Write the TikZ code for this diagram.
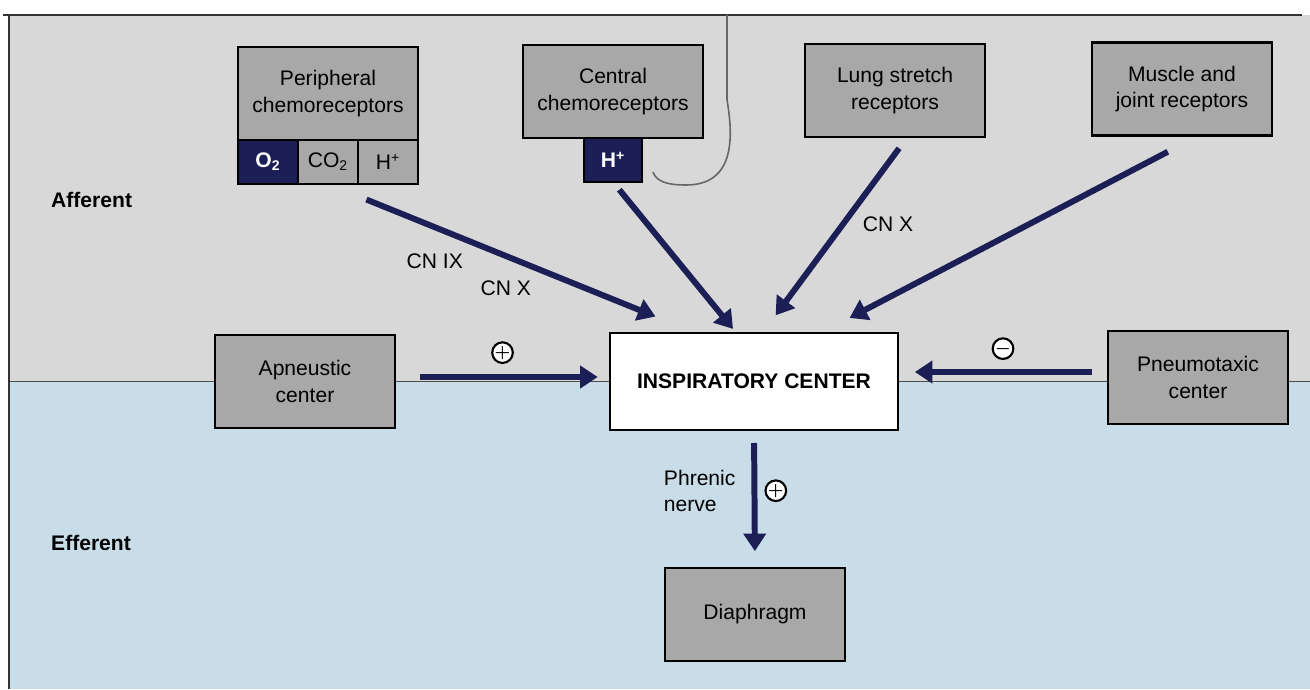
\documentclass[tikz,border=0pt]{standalone}
\usepackage{fontspec}
\setmainfont{Liberation Sans}
\usetikzlibrary{positioning,arrows.meta}

\definecolor{navy}{HTML}{1B1F55}
\definecolor{boxgrey}{HTML}{A8A8A8}
\definecolor{upgrey}{HTML}{D8D8D8}
\definecolor{lowblue}{HTML}{C9DDE8}

\tikzset{
  box/.style={draw=black,line width=1.6pt,fill=boxgrey,outer sep=0pt,
    minimum width=3.6cm,minimum height=1.86cm,align=center,inner sep=2pt,
    font=\fontsize{12}{15}\selectfont},
  cell/.style={draw=black,line width=1.6pt,fill=boxgrey,outer sep=0pt,
    minimum width=1.2cm,minimum height=0.88cm,inner sep=0pt,
    font=\fontsize{12}{15}\selectfont},
  darkcell/.style={cell,fill=navy,text=white,
    font=\fontsize{12}{15}\selectfont\bfseries},
  sig/.style={draw=navy,line width=3.4pt,
    -{Triangle[length=10pt,width=12.5pt]}},
  sign/.style={circle,draw=black,fill=white,line width=1.2pt,inner sep=0pt,
    minimum size=0.4cm,font=\boldmath},
  lbl/.style={font=\fontsize{12}{15}\selectfont,inner sep=2pt},
  side/.style={font=\fontsize{12}{15}\selectfont\bfseries,anchor=west}
}

\begin{document}
\begin{tikzpicture}[x=0.02cm,y=-0.02cm]
\useasboundingbox (0,0) rectangle (1310,689);

% Background: grey upper band, blue lower band.
\fill[white] (0,0) rectangle (1310,689);
\fill[upgrey] (8,15) rectangle (1310,381);
\fill[lowblue] (8,381) rectangle (1310,689);
\draw[black!70,line width=0.5pt] (8,381) -- (1310,381);
\draw[black!80,line width=1.2pt] (3,15) -- (1302,15);
\draw[black!80,line width=0.8pt] (9,15) -- (9,689);

% Outline hooking round the central chemoreceptors.
\draw[black!60,line width=0.9pt] (727,15) -- (727,100)
  .. controls (733,135) and (736,185) .. (686,185)
  .. controls (666,185) and (656,181) .. (653,172);

\node[side] (aff) at (45,200) {Afferent};
\node[side] (eff) at (45,543) {Efferent};

% Receptor boxes along the top.
\node[box] (periph) at (328,93.5) {Peripheral\\chemoreceptors};
\node[darkcell,anchor=north west] (o2) at (periph.south west)
  {O\textsubscript{2}};
\node[cell,right=0pt of o2] (co2) {CO\textsubscript{2}};
\node[cell,right=0pt of co2] (hplus) {H\textsuperscript{+}};

\node[box] (central) at (613,91.5) {Central\\chemoreceptors};
\node[darkcell,minimum width=1.16cm,below=0pt of central] (hcen)
  {H\textsuperscript{+}};

\node[box] (lung) at (895,90.5) {Lung stretch\\receptors};
\node[box] (muscle) at (1182,89) {Muscle and\\joint receptors};

% Middle row and the effector.
\node[box] (apn) at (305,381.5) {Apneustic\\center};
\node[box,fill=white,minimum width=5.76cm,minimum height=1.94cm,
  font=\fontsize{12}{15}\selectfont\bfseries] (insp) at (754,381.5)
  {INSPIRATORY CENTER};
\node[box] (pneumo) at (1198,377.5) {Pneumotaxic\\center};
\node[box] (dia) at (755,614.5) {Diaphragm};

% Afferent arrows.
\draw[sig,shorten <=23.6pt,shorten >=25pt] (co2.south) -- (insp.140)
  node[lbl,pos=0.29,below=0.4cm] {CN IX}
  node[lbl,pos=0.483,below=0.36cm] {CN X};
\draw[sig,shorten <=5.7pt,shorten >=3pt] (hcen.south) -- (insp.110);
\draw[sig,shorten <=8pt,shorten >=12.5pt] (lung.-75) -- (insp.80)
  node[lbl,pos=0.446,right=0.27cm] {CN X};
\draw[sig,shorten <=20pt,shorten >=18.5pt] (muscle.-70) -- (insp.36);

% Side inputs.
\draw[sig,shorten <=14pt,shorten >=7pt]
  ([yshift=0.09cm]apn.east) -- ([yshift=0.09cm]apn.east -| insp.west)
  node[sign,midway,above=0.26cm] {$+$};
\draw[sig,shorten <=9pt,shorten >=9.6pt]
  ([yshift=0.11cm]pneumo.west) -- ([yshift=0.11cm]pneumo.west -| insp.east)
  node[sign,midway,above=0.24cm] {$-$};

% Efferent.
\draw[sig,shorten <=7.4pt,shorten >=9.6pt] (insp.south) -- (dia.north)
  node[sign,pos=0.44,right=0.2cm] {$+$}
  node[lbl,align=left,pos=0.44,left=0.25cm] {Phrenic\\nerve};

\end{tikzpicture}
\end{document}
